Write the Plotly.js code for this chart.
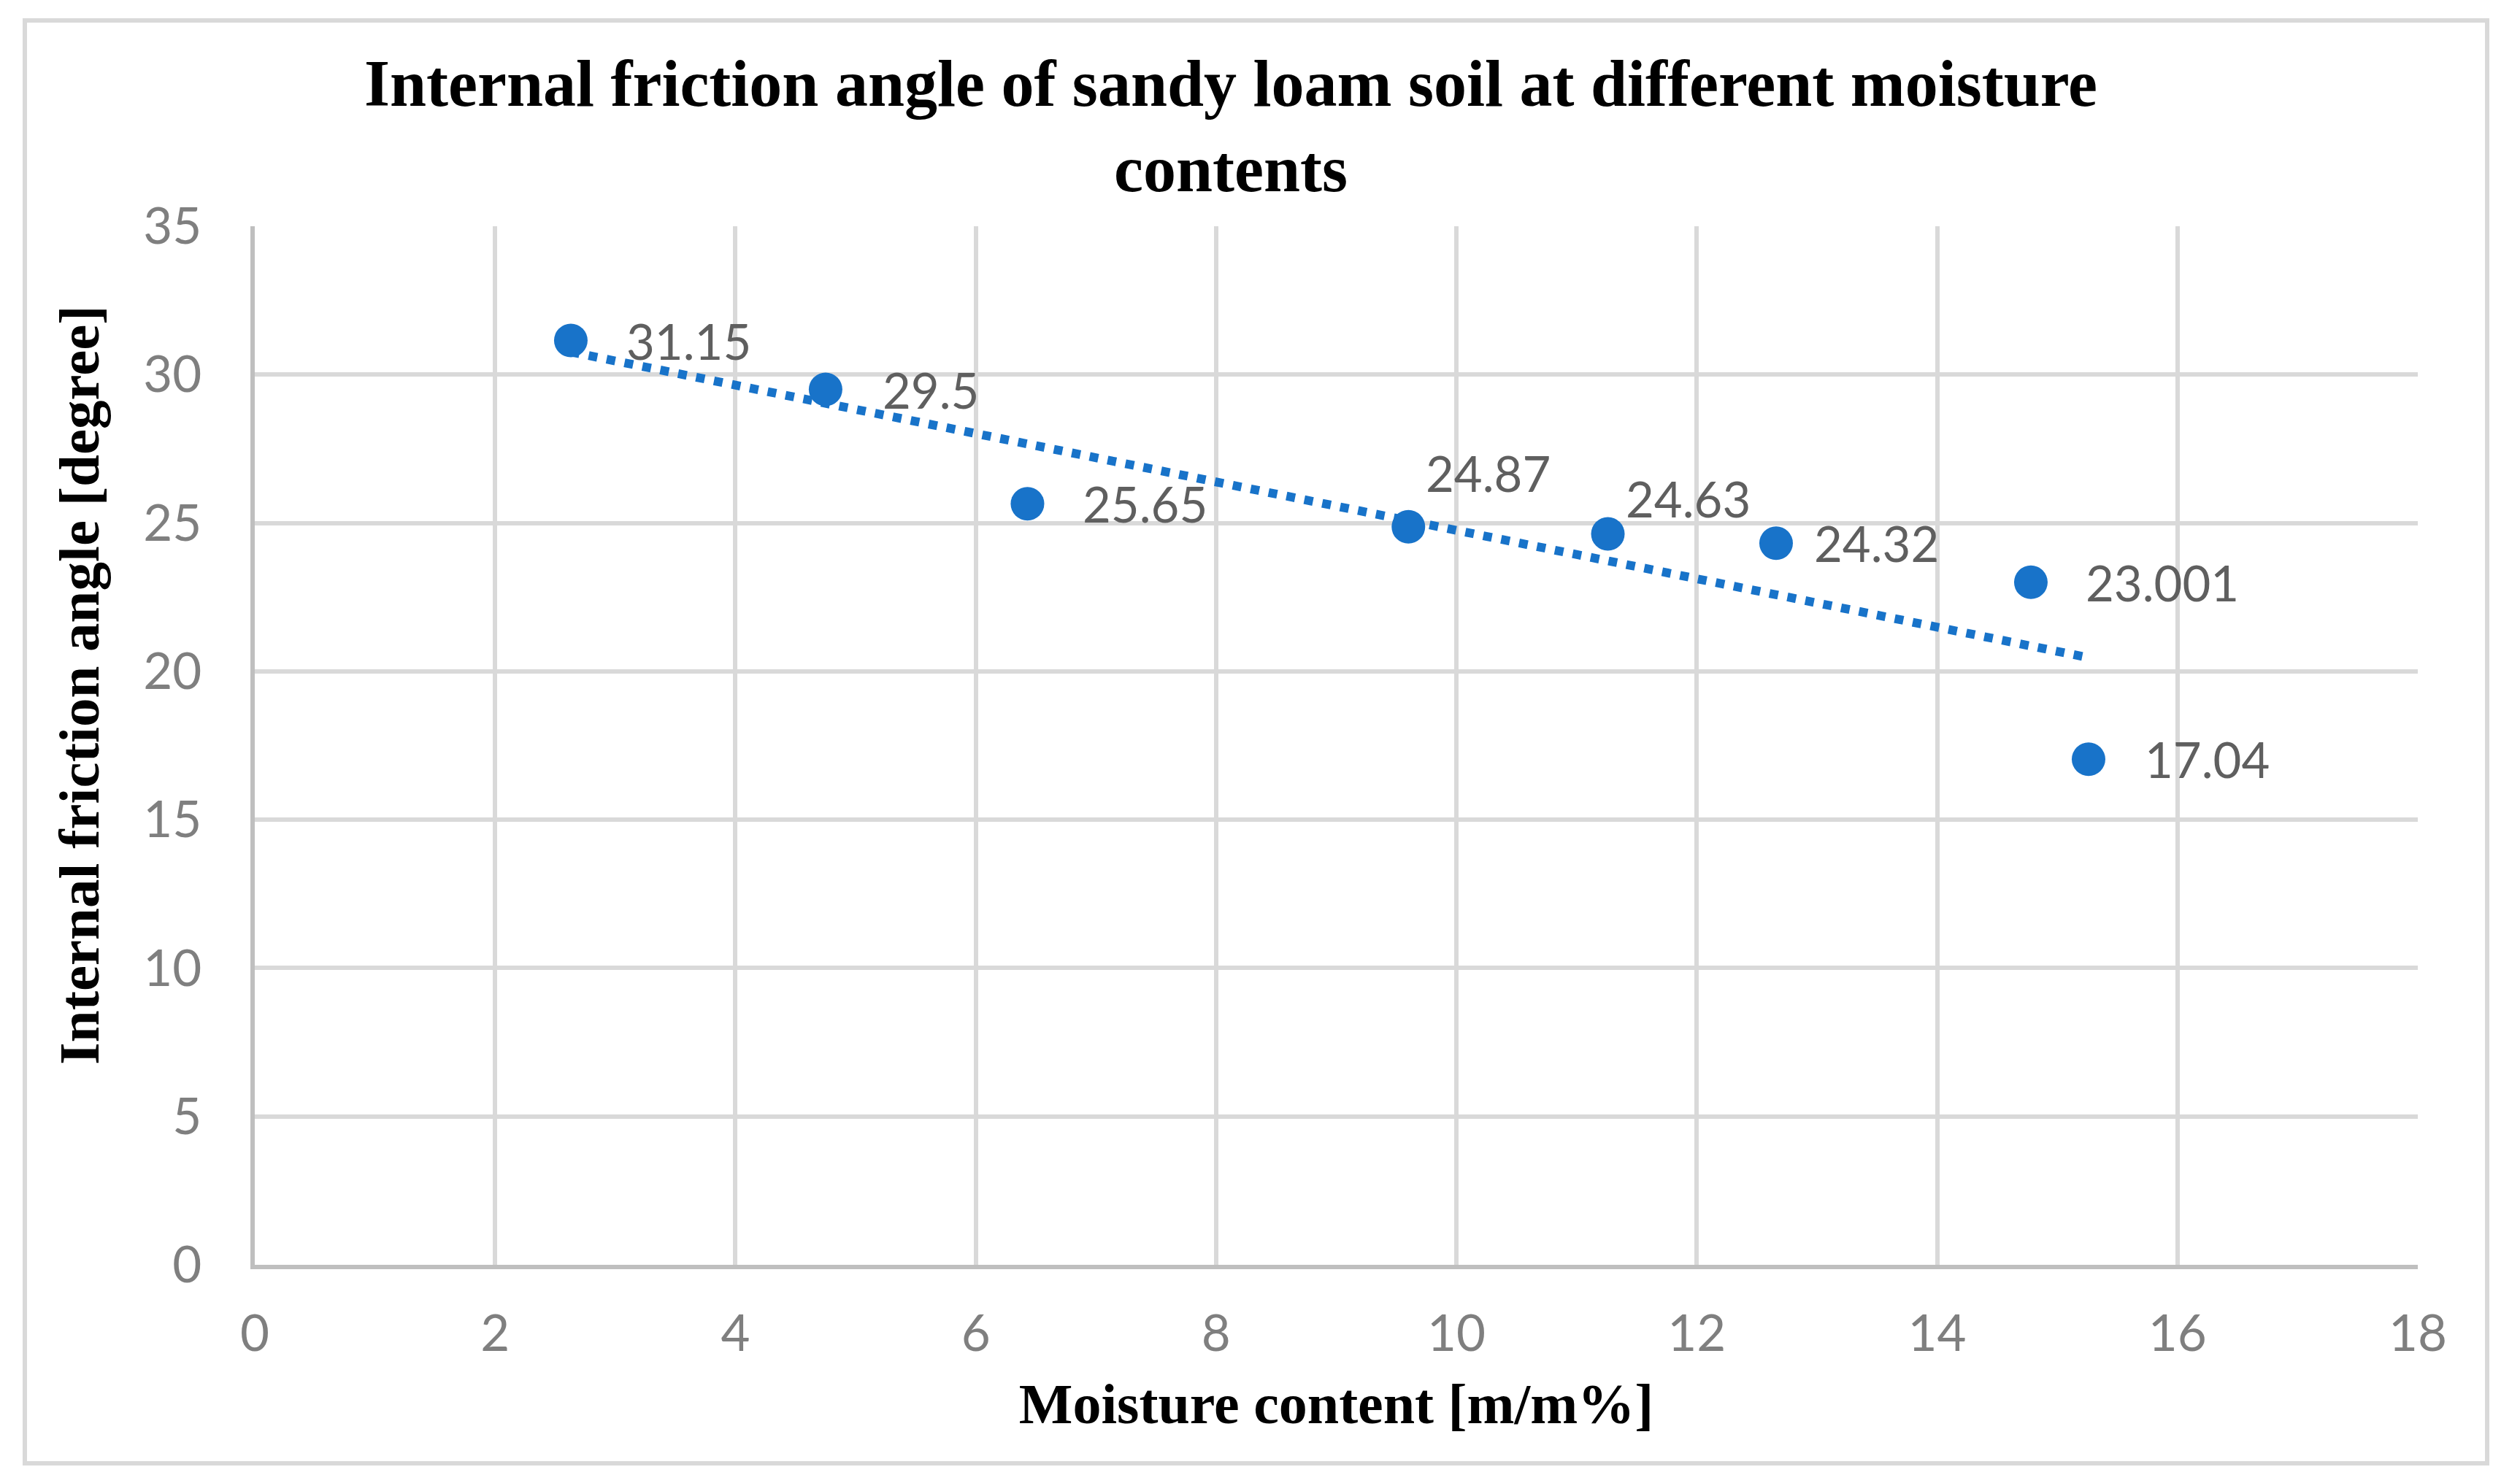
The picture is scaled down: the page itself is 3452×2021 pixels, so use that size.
<!DOCTYPE html>
<html>
<head>
<meta charset="utf-8">
<script src="https://cdn.plot.ly/plotly-3.0.1.min.js"></script>
<style>html,body{margin:0;padding:0;background:#fff;}#chart{width:3452px;height:2021px;}</style>
</head>
<body>
<div id="chart"></div>
<script>
// ---- data ----
const moisture = [2.63, 4.75, 6.43, 9.60, 11.26, 12.66, 14.78, 15.26];
const frictionAngle = [31.15, 29.5, 25.65, 24.87, 24.63, 24.32, 23.001, 17.04];
const pointLabels = ['31.15', '29.5', '25.65', '24.87', '24.63', '24.32', '23.001', '17.04'];
const xTicks = [0, 2, 4, 6, 8, 10, 12, 14, 16, 18];
const yTicks = [0, 5, 10, 15, 20, 25, 30, 35];

const chartTitle = 'Internal friction angle of sandy loam soil at different moisture<br>contents';
const xTitle = 'Moisture content [m/m%]';
const yTitle = 'Internal friction angle [degree]';

// ---- styles (label offsets in px, not data) ----
const labelShift = [[75, 0], [77, 0], [75, 0], [23, 74], [23, 49], [51, 0], [74, 0], [76, 0]];

// linear least-squares trendline (as Excel's linear trendline)
function linearFit(xs, ys) {
  const n = xs.length;
  const mx = xs.reduce((a, b) => a + b, 0) / n;
  const my = ys.reduce((a, b) => a + b, 0) / n;
  let sxy = 0, sxx = 0;
  for (let i = 0; i < n; i++) { sxy += (xs[i] - mx) * (ys[i] - my); sxx += (xs[i] - mx) ** 2; }
  const b = sxy / sxx;
  return { slope: b, intercept: my - b * mx };
}
const fit = linearFit(moisture, frictionAngle);
const trendX = [Math.min(...moisture), Math.max(...moisture)];
const trendY = trendX.map(v => fit.intercept + fit.slope * v);

const blue = '#1873c9';

const traces = [
  {
    x: trendX, y: trendY, type: 'scatter', mode: 'lines',
    line: { color: blue, width: 12, dash: '12px,13px' },
    hoverinfo: 'skip', showlegend: false
  },
  {
    x: moisture, y: frictionAngle, type: 'scatter', mode: 'markers',
    marker: { color: blue, size: 46, line: { width: 0 } },
    showlegend: false
  }
];

const W = 3452, H = 2021;
const L = 349, R = 140, T = 310, B = 288;
const pw = W - L - R, ph = H - T - B;
const px2x = p => (p - L) / pw;
const px2y = p => (H - B - p) / ph;

const annotations = moisture.map((xv, i) => ({
  x: xv, y: frictionAngle[i], xref: 'x', yref: 'y',
  text: pointLabels[i], showarrow: false,
  xanchor: 'left', yanchor: 'middle',
  xshift: labelShift[i][0], yshift: labelShift[i][1],
  borderpad: 0,
  font: { family: 'Lato, Carlito, sans-serif', size: 67, color: '#5f5f5f' }
}));

annotations.push({
  x: px2x(108), y: px2y(939), xref: 'paper', yref: 'paper',
  text: yTitle, showarrow: false, textangle: -90,
  xanchor: 'center', yanchor: 'middle',
  font: { family: 'Liberation Serif, Times New Roman, serif', size: 79, color: '#000000', weight: 'bold' }
});

const layout = {
  width: W, height: H,
  margin: { l: L, r: R, t: T, b: B, pad: 0 },
  paper_bgcolor: '#ffffff', plot_bgcolor: '#ffffff',
  showlegend: false,
  title: {
    text: chartTitle,
    font: { family: 'Liberation Serif, Times New Roman, serif', size: 90, color: '#000000', weight: 'bold' },
    xref: 'paper', x: px2x(1686), xanchor: 'center',
    yref: 'container', y: 1 - 145 / H, yanchor: 'top'
  },
  xaxis: {
    range: [0, 18], tickvals: xTicks, ticktext: xTicks.map(String),
    showgrid: true, gridcolor: '#d9d9d9', gridwidth: 6,
    showline: true, linecolor: '#bfbfbf', linewidth: 6,
    zeroline: false, ticks: '', ticklabelstandoff: 29,
    tickfont: { family: 'Lato, Carlito, sans-serif', size: 69, color: '#7f7f7f' },
    title: {
      text: xTitle, standoff: 33,
      font: { family: 'Liberation Serif, Times New Roman, serif', size: 78, color: '#000000', weight: 'bold' }
    },
    automargin: false, fixedrange: true
  },
  yaxis: {
    range: [0, 35], tickvals: yTicks, ticktext: yTicks.map(String),
    showgrid: true, gridcolor: '#d9d9d9', gridwidth: 6,
    showline: true, linecolor: '#bfbfbf', linewidth: 6,
    zeroline: false, ticks: '', ticklabelstandoff: 53,
    tickfont: { family: 'Lato, Carlito, sans-serif', size: 69, color: '#7f7f7f' },
    automargin: false, fixedrange: true
  },
  annotations: annotations,
  shapes: [{
    type: 'rect', xref: 'paper', yref: 'paper', layer: 'below',
    x0: px2x(34), x1: px2x(3407), y0: px2y(2005), y1: px2y(28),
    line: { color: '#d9d9d9', width: 6 }, fillcolor: 'rgba(0,0,0,0)'
  }]
};

Plotly.newPlot('chart', traces, layout, { displayModeBar: false, staticPlot: true });
</script>
</body>
</html>
